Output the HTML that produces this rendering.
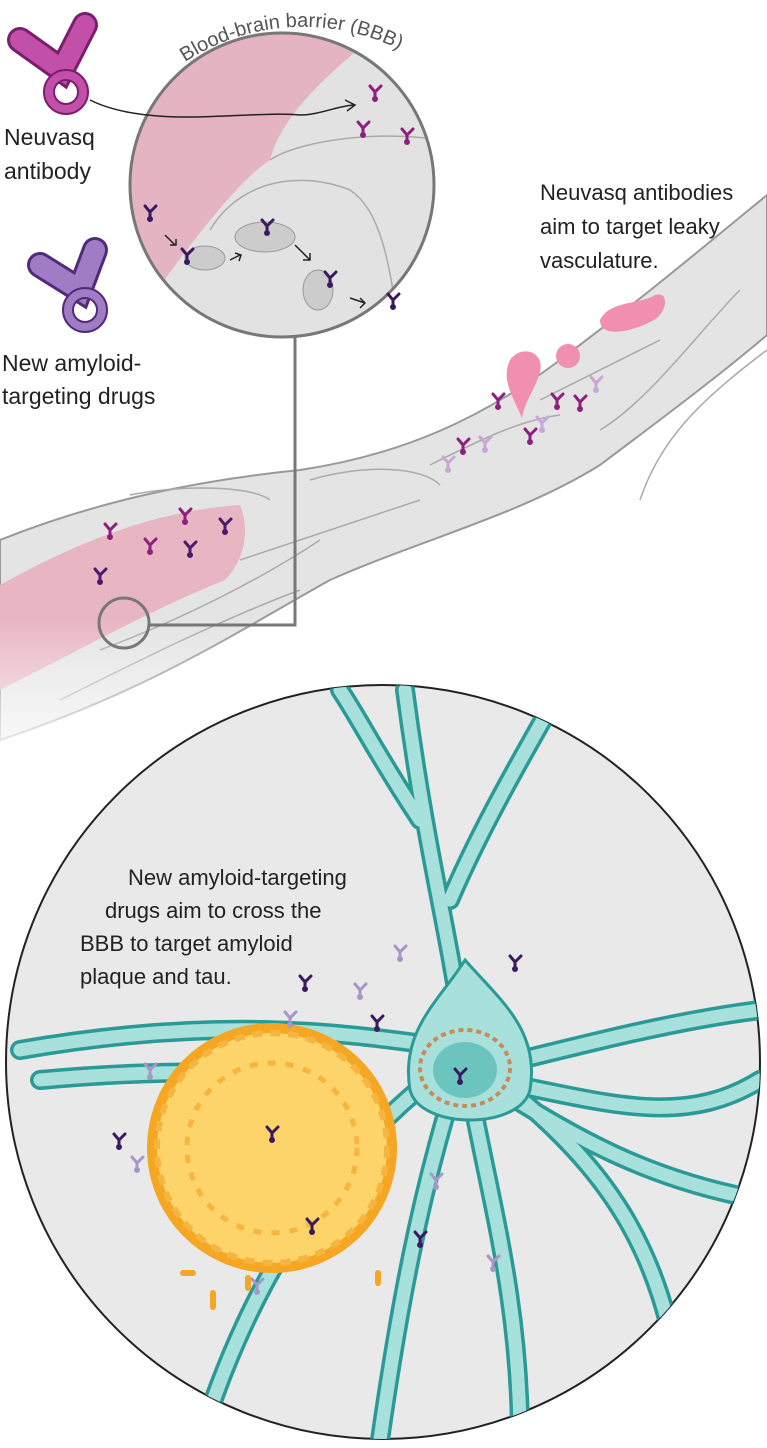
<!DOCTYPE html>
<html><head><meta charset="utf-8"><style>
html,body{margin:0;padding:0;background:#fff}
svg{display:block}
text{font-family:"Liberation Sans",sans-serif;fill:#222}
</style></head><body>
<svg width="767" height="1448" viewBox="0 0 767 1448" xmlns="http://www.w3.org/2000/svg">
<defs>
<linearGradient id="fade" x1="0" y1="0" x2="0" y2="1">
<stop offset="0" stop-color="#fff" stop-opacity="0"/>
<stop offset="1" stop-color="#fff" stop-opacity="1"/>
</linearGradient>
<clipPath id="c1"><circle cx="282" cy="185" r="152"/></clipPath>
<clipPath id="c2"><circle cx="383" cy="1062" r="377"/></clipPath>
<g id="ab"><path d="M-5,-6 L0,0 L6,-6 M0,0 L0,6" stroke-width="3" fill="none" stroke-linecap="round"/><circle cx="0" cy="7" r="2.5"/></g>
<path id="arc" d="M185,62 A215,215 0 0 1 460,95" fill="none"/>
</defs>

<!-- vessel -->
<path d="M0,540 C100,500 200,480 300,470 C400,455 480,420 560,360 C640,300 700,250 767,195 L767,335 C720,375 660,420 600,465 C520,515 420,540 330,580 C240,630 150,690 0,740 Z" fill="#e4e4e4" stroke="#999" stroke-width="2"/>
<path d="M0,585 C80,540 160,510 240,505 C250,530 245,560 225,580 C150,610 80,650 0,690Z" fill="#e8b6c3"/>
<g fill="none" stroke="#aaa" stroke-width="1.5">
<path d="M130,495 C180,485 250,485 270,500"/><path d="M310,480 C360,465 420,465 440,485"/><path d="M430,465 C480,440 520,420 560,415"/><path d="M540,400 C580,380 620,360 660,340"/><path d="M600,430 C650,400 700,330 740,290"/><path d="M100,650 C180,620 260,580 320,540"/><path d="M240,560 C300,540 360,520 420,500"/><path d="M60,700 C140,660 220,620 300,590"/><path d="M640,500 C660,440 700,400 767,350"/>
</g>
<rect x="0" y="620" width="767" height="160" fill="url(#fade)"/>
<path d="M510,360 C520,345 545,350 540,372 C535,390 525,400 522,418 C515,400 500,380 510,360Z" fill="#f08fb0"/>
<circle cx="568" cy="356" r="12" fill="#f08fb0"/>
<path d="M600,320 C610,300 640,305 655,295 C670,290 668,315 650,322 C635,330 600,340 600,320Z" fill="#f08fb0"/>
<g stroke="#8e1f7d" fill="#8e1f7d">
<use href="#ab" x="185" y="515"/><use href="#ab" x="110" y="530"/><use href="#ab" x="150" y="545"/><use href="#ab" x="498" y="400"/><use href="#ab" x="463" y="445"/><use href="#ab" x="530" y="435"/><use href="#ab" x="557" y="400"/><use href="#ab" x="580" y="402"/>
</g>
<g stroke="#4a1a6c" fill="#4a1a6c"><use href="#ab" x="225" y="525"/><use href="#ab" x="190" y="548"/><use href="#ab" x="100" y="575"/></g>
<g stroke="#c9a6d6" fill="#c9a6d6"><use href="#ab" x="485" y="443"/><use href="#ab" x="448" y="463"/><use href="#ab" x="542" y="423"/><use href="#ab" x="596" y="383"/></g>
<text font-size="22"><tspan x="540" y="200">Neuvasq antibodies</tspan><tspan x="540" y="234">aim to target leaky</tspan><tspan x="540" y="268">vasculature.</tspan></text>

<!-- big circle -->
<circle cx="383" cy="1062" r="377" fill="#e9e9e9" stroke="#222" stroke-width="2"/>
<g clip-path="url(#c2)" fill="none" stroke-linecap="round">
<g stroke="#2a9a97" stroke-width="20">
<path d="M465,1060 C455,950 430,880 405,690"/>
<path d="M450,900 C480,830 520,760 560,690"/>
<path d="M420,820 C380,760 360,720 340,690"/>
<path d="M470,1050 C380,1040 250,1010 20,1050"/>
<path d="M40,1080 C150,1070 250,1070 330,1080"/>
<path d="M480,1070 C600,1040 680,1020 760,1010"/>
<path d="M490,1080 C600,1100 680,1130 760,1080"/>
<path d="M510,1090 C620,1180 660,1260 680,1380"/>
<path d="M470,1090 C490,1200 520,1300 520,1440"/>
<path d="M450,1100 C420,1200 400,1300 380,1440"/>
<path d="M430,1080 C330,1160 250,1280 200,1440"/>
<path d="M500,1090 C580,1140 650,1180 760,1200"/>
</g>
<g stroke="#a8e0dc" stroke-width="13">
<path d="M465,1060 C455,950 430,880 405,690"/>
<path d="M450,900 C480,830 520,760 560,690"/>
<path d="M420,820 C380,760 360,720 340,690"/>
<path d="M470,1050 C380,1040 250,1010 20,1050"/>
<path d="M40,1080 C150,1070 250,1070 330,1080"/>
<path d="M480,1070 C600,1040 680,1020 760,1010"/>
<path d="M490,1080 C600,1100 680,1130 760,1080"/>
<path d="M510,1090 C620,1180 660,1260 680,1380"/>
<path d="M470,1090 C490,1200 520,1300 520,1440"/>
<path d="M450,1100 C420,1200 400,1300 380,1440"/>
<path d="M430,1080 C330,1160 250,1280 200,1440"/>
<path d="M500,1090 C580,1140 650,1180 760,1200"/>
</g>
</g>
<path d="M465,960 C500,1000 540,1030 530,1090 C520,1130 420,1130 410,1090 C400,1030 440,1000 465,960Z" fill="#a8e0dc" stroke="#2a9a97" stroke-width="3"/>
<ellipse cx="465" cy="1068" rx="45" ry="38" fill="none" stroke="#c98a55" stroke-width="4" stroke-dasharray="5 4"/>
<ellipse cx="465" cy="1070" rx="32" ry="28" fill="#6cc4bf"/>
<circle cx="272" cy="1148" r="125" fill="#f5a623"/>
<circle cx="272" cy="1148" r="115" fill="#fcd46a"/>
<circle cx="272" cy="1148" r="115" fill="none" stroke="#f5b540" stroke-width="6" stroke-dasharray="10 8"/>
<circle cx="272" cy="1148" r="85" fill="none" stroke="#f5b540" stroke-width="5" stroke-dasharray="8 10"/>
<g fill="#f5a623"><rect x="210" y="1290" width="6" height="20" rx="3"/><rect x="245" y="1275" width="6" height="16" rx="3"/><rect x="375" y="1270" width="6" height="16" rx="3"/><rect x="180" y="1270" width="16" height="6" rx="3"/></g>
<g stroke="#3a1a5c" fill="#3a1a5c">
<use href="#ab" x="515" y="962"/><use href="#ab" x="305" y="982"/><use href="#ab" x="377" y="1022"/><use href="#ab" x="460" y="1075"/><use href="#ab" x="272" y="1133"/><use href="#ab" x="119" y="1140"/><use href="#ab" x="312" y="1225"/><use href="#ab" x="420" y="1238"/>
</g>
<g stroke="#a796c7" fill="#a796c7">
<use href="#ab" x="400" y="952"/><use href="#ab" x="360" y="990"/><use href="#ab" x="290" y="1018"/><use href="#ab" x="150" y="1070"/><use href="#ab" x="137" y="1163"/><use href="#ab" x="436" y="1180"/><use href="#ab" x="493" y="1262"/><use href="#ab" x="257" y="1285"/>
</g>
<text font-size="22"><tspan x="128" y="885">New amyloid-targeting</tspan><tspan x="105" y="918">drugs aim to cross the</tspan><tspan x="80" y="951">BBB to target amyloid</tspan><tspan x="80" y="984">plaque and tau.</tspan></text>

<path d="M295,338 L295,625 L150,625" fill="none" stroke="#777" stroke-width="3"/>
<circle cx="124" cy="623" r="25" fill="none" stroke="#777" stroke-width="3"/>

<circle cx="282" cy="185" r="152" fill="#e2e2e2"/>
<g clip-path="url(#c1)">
<path d="M120,20 L370,40 C320,80 280,120 270,160 C240,180 200,230 150,300 L120,300Z" fill="#e5b4c2"/>
<path d="M270,160 C300,140 380,130 440,140" fill="none" stroke="#aaa" stroke-width="1.5"/>
<path d="M210,230 C240,180 300,170 350,190 C380,210 390,260 400,340" fill="none" stroke="#aaa" stroke-width="1.5"/>
<ellipse cx="205" cy="258" rx="20" ry="12" fill="#ccc" stroke="#999"/>
<ellipse cx="265" cy="237" rx="30" ry="15" fill="#ccc" stroke="#999"/>
<ellipse cx="318" cy="290" rx="15" ry="20" fill="#ccc" stroke="#999"/>
</g>
<circle cx="282" cy="185" r="152" fill="none" stroke="#777" stroke-width="3"/>
<g stroke="#3a1a5c" fill="#3a1a5c"><use href="#ab" x="150" y="212"/><use href="#ab" x="187" y="255"/><use href="#ab" x="267" y="226"/><use href="#ab" x="330" y="278"/><use href="#ab" x="393" y="300"/></g>
<g stroke="#8e1f7d" fill="#8e1f7d"><use href="#ab" x="375" y="92"/><use href="#ab" x="363" y="128"/><use href="#ab" x="407" y="135"/></g>
<g fill="none" stroke="#222" stroke-width="1.5"><path d="M165,235 l10,10 M170,245 h6 v-6"/><path d="M230,260 l10,-5 M235,253 l6,2 l-2,6"/><path d="M295,245 l15,15 M303,260 h7 v-7"/><path d="M350,298 l15,5 M360,298 l5,5 l-5,5"/></g>
<path d="M90,100 C150,130 250,110 300,115 C320,115 340,105 355,105" fill="none" stroke="#222" stroke-width="1.5"/>
<path d="M345,100 l10,5 l-8,6" fill="none" stroke="#222" stroke-width="1.5"/>
<text font-size="20" style="fill:#555"><textPath href="#arc">Blood-brain barrier (BBB)</textPath></text>

<g stroke-linecap="round" fill="none">
<path d="M20,40 L62,70 L85,25" stroke="#7a1e6e" stroke-width="26"/>
<path d="M20,40 L62,70 L85,25" stroke="#c250a8" stroke-width="20"/>
<circle cx="66" cy="92" r="17" stroke="#7a1e6e" stroke-width="12"/>
<circle cx="66" cy="92" r="17" stroke="#c250a8" stroke-width="8"/>
<path d="M40,265 L80,290 L95,250" stroke="#4f2b7a" stroke-width="26"/>
<path d="M40,265 L80,290 L95,250" stroke="#9f7cc4" stroke-width="20"/>
<circle cx="85" cy="310" r="17" stroke="#4f2b7a" stroke-width="12"/>
<circle cx="85" cy="310" r="17" stroke="#9f7cc4" stroke-width="8"/>
</g>
<text font-size="23"><tspan x="4" y="145">Neuvasq</tspan><tspan x="4" y="179">antibody</tspan></text>
<text font-size="23"><tspan x="2" y="371">New amyloid-</tspan><tspan x="2" y="404">targeting drugs</tspan></text>
</svg>
</body></html>
